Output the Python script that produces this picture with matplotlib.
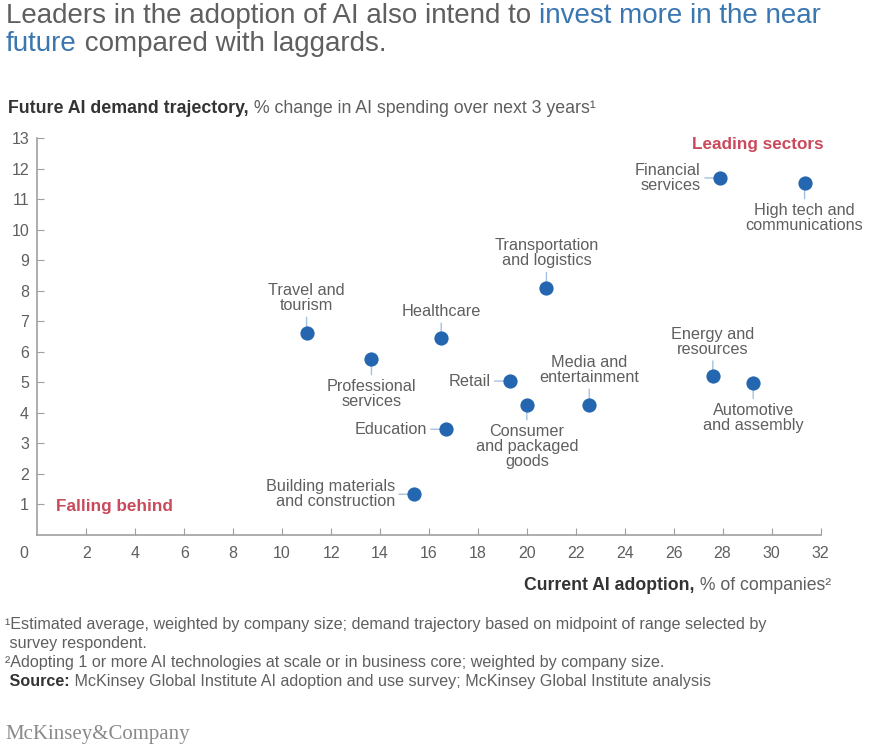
import matplotlib
matplotlib.use('Agg')
import matplotlib.pyplot as plt

plt.rcParams['font.family'] = ['Liberation Sans', 'DejaVu Sans']

# data
sectors = ['Travel and\ntourism', 'Healthcare', 'Professional\nservices', 'Education',
           'Building materials\nand construction', 'Retail', 'Consumer\nand packaged\ngoods',
           'Media and\nentertainment', 'Energy and\nresources', 'Automotive\nand assembly',
           'Transportation\nand logistics', 'Financial\nservices', 'High tech and\ncommunications']
adoption = [11.0, 16.5, 13.65, 16.7, 15.4, 19.3, 20.0, 22.55, 27.6, 29.25, 20.8, 27.9, 31.35]
demand = [6.63, 6.44, 5.75, 3.46, 1.33, 5.04, 4.27, 4.27, 5.2, 4.97, 8.1, 11.7, 11.52]
# where each label sits relative to its dot
label_side = ['top', 'top', 'bottom', 'left', 'left', 'left', 'bottom',
              'top', 'top', 'bottom', 'top', 'left', 'bottom']
x_ticks = list(range(2, 33, 2))
y_ticks = list(range(1, 14))

W, H = 872, 752
GREY = '#5f5f5f'
BLUE = '#2467b0'
LEADER = '#a4c2e0'
RED = '#c94a5c'
AXIS = '#a0a0a0'

fig = plt.figure(figsize=(W / 100, H / 100), dpi=100)
ax = fig.add_axes([37.4 / W, 1 - 534.8 / H, (820.5 - 37.4) / W, (534.8 - 138.3) / H])
ax.set_xlim(0, 32)
ax.set_ylim(0, 13)
for s in ['top', 'right']:
    ax.spines[s].set_visible(False)
for s in ['left', 'bottom']:
    ax.spines[s].set_color(AXIS)
    ax.spines[s].set_linewidth(1.2)
ax.set_xticks(x_ticks)
ax.set_yticks(y_ticks)
ax.tick_params(axis='both', which='major', direction='in', length=5, width=0.8,
               color=AXIS, labelcolor=GREY, labelsize=11.5)
ax.tick_params(axis='x', pad=8)
ax.tick_params(axis='y', pad=6)
ax.text(-0.55, -0.6, '0', ha='center', va='center', fontsize=11.5, color=GREY,
        clip_on=False)

ax.scatter(adoption, demand, s=105, color=BLUE, zorder=3, linewidths=0)

gap = 14
offsets = {'top': ((0, gap), 'center', 'bottom', (0.5, 0)),
           'bottom': ((0, -gap), 'center', 'top', (0.5, 1)),
           'left': ((-gap, 0), 'right', 'center', (1, 0.5))}
for name, xv, yv, side in zip(sectors, adoption, demand, label_side):
    off, ha, va, rel = offsets[side]
    ax.annotate(name, (xv, yv), xytext=off, textcoords='offset points', ha=ha, va=va,
                multialignment=ha if side == 'left' else 'center',
                fontsize=11.7, color=GREY, linespacing=1.0,
                arrowprops=dict(arrowstyle='-', color=LEADER, lw=1, relpos=rel,
                                shrinkA=1, shrinkB=0), zorder=2)

ax.text(29.45, 12.8, 'Leading sectors', ha='center', va='center', fontsize=12.3,
        fontweight='bold', color=RED)
ax.text(0.76, 0.94, 'Falling behind', ha='left', va='center', fontsize=12.3,
        fontweight='bold', color=RED)

renderer = fig.canvas.get_renderer()


def rich(x, y, parts, size, ha='left'):
    # draw pieces of text one after another on one baseline (pixel coords)
    texts = []
    for s, color, weight in parts:
        t = fig.text(0, y / H, s, fontsize=size, color=color, fontweight=weight,
                     va='baseline')
        texts.append(t)
    widths = [t.get_window_extent(renderer).width for t in texts]
    x0 = x - sum(widths) if ha == 'right' else x
    for t, w in zip(texts, widths):
        t.set_x(x0 / W)
        x0 += w


rich(6, H - 23, [('Leaders in the adoption of AI also intend to ', GREY, 'normal'),
                 ('invest more in the near', '#3a76b0', 'normal')], 20)
rich(6, H - 51, [('future', '#3a76b0', 'normal'),
                 (' compared with laggards.', GREY, 'normal')], 20)
rich(8, H - 113, [('Future AI demand trajectory,', '#333333', 'bold'),
                  (' % change in AI spending over next 3 years¹', GREY, 'normal')], 12.8)
rich(831, H - 590, [('Current AI adoption,', '#333333', 'bold'),
                    (' % of companies²', GREY, 'normal')], 12.7, ha='right')

rich(5, H - 629, [('¹Estimated average, weighted by company size; demand trajectory based '
                   'on midpoint of range selected by', GREY, 'normal')], 11.6)
rich(5, H - 648, [(' survey respondent.', GREY, 'normal')], 11.6)
rich(5, H - 667, [('²Adopting 1 or more AI technologies at scale or in business core; '
                   'weighted by company size.', GREY, 'normal')], 11.6)
rich(5, H - 686, [(' Source:', '#333333', 'bold'),
                  (' McKinsey Global Institute AI adoption and use survey; McKinsey Global '
                   'Institute analysis', GREY, 'normal')], 11.6)
fig.text(5 / W, 1 - 735 / H, 'McKinsey&Company', family=['Liberation Serif', 'DejaVu Serif'],
         fontsize=15, color='#8a8a8a', va='center')

fig.savefig('out.png', dpi=100, facecolor='white')
